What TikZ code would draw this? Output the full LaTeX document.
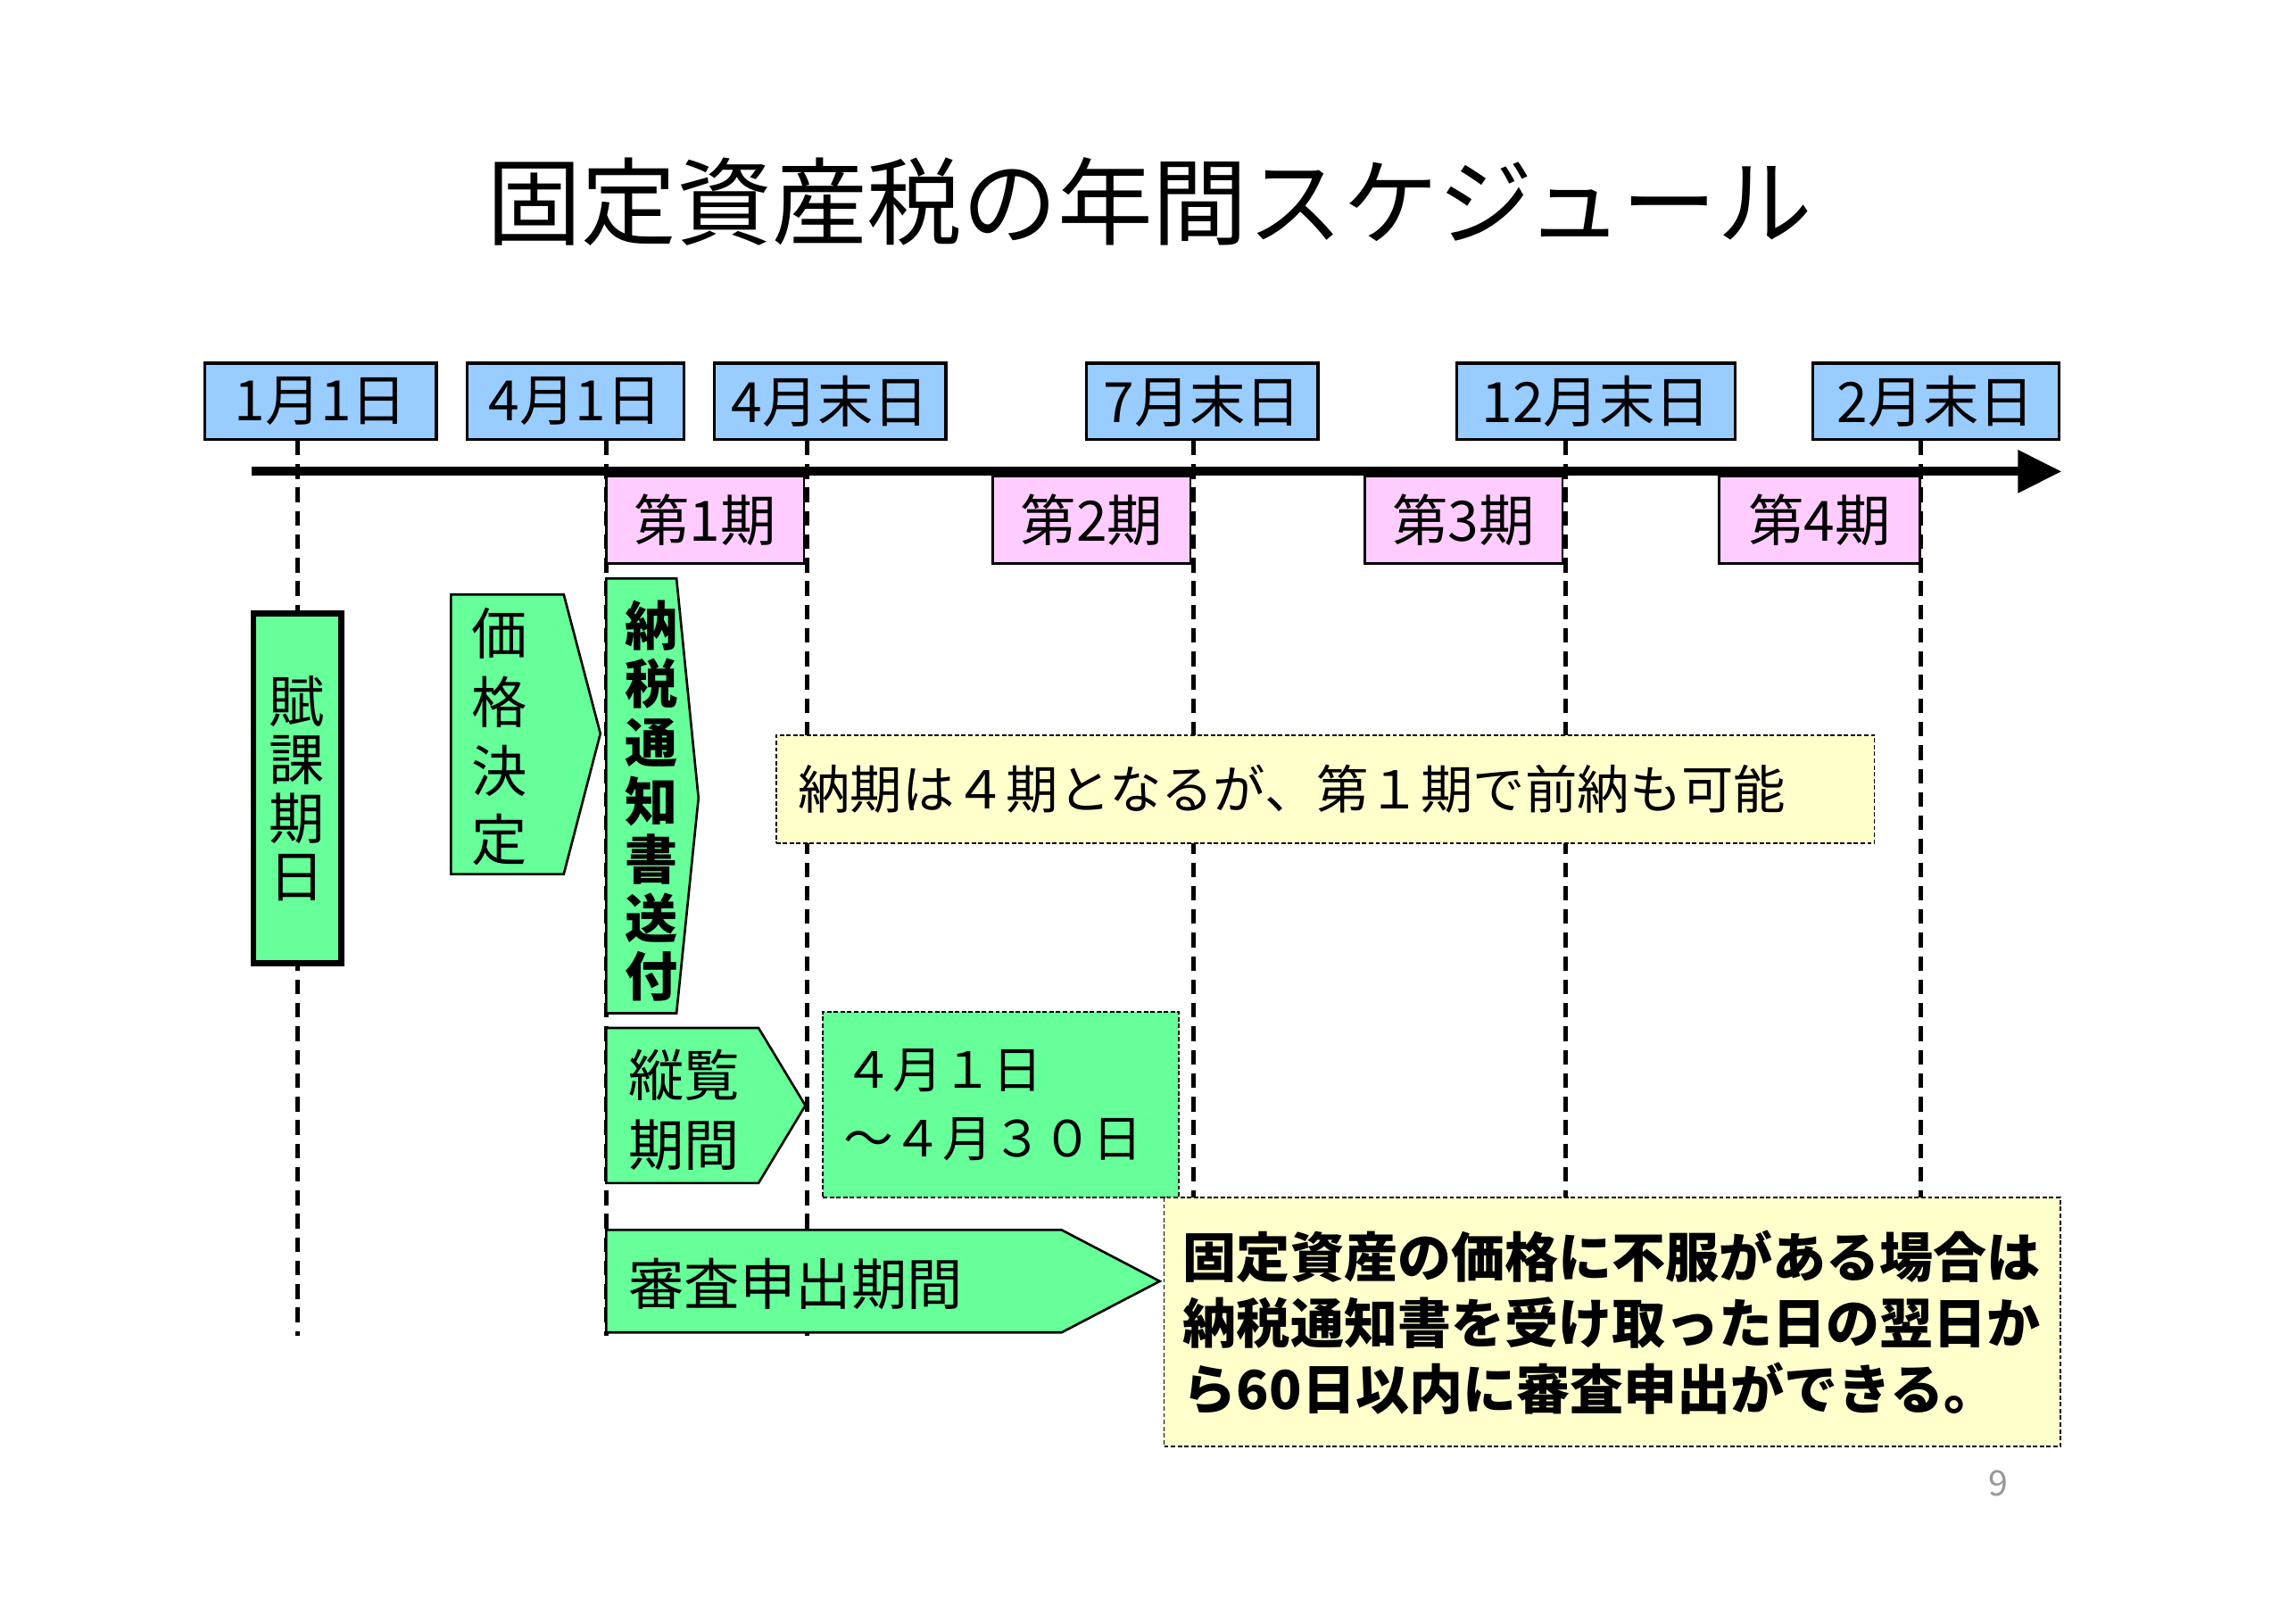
\documentclass[tikz,border=0pt]{standalone}
\usepackage{fontspec}
\setmainfont{Noto Sans CJK JP}
\usetikzlibrary{arrows.meta}
\definecolor{bluefill}{HTML}{99CCFF}
\definecolor{pinkfill}{HTML}{FFCCFF}
\definecolor{greenfill}{HTML}{66FF99}
\definecolor{yellowfill}{HTML}{FFFFCC}
\definecolor{pagegray}{HTML}{999999}
\begin{document}
\begin{tikzpicture}[x=0.5pt,y=-0.5pt,
  datebox/.style={draw=black, line width=1pt, fill=bluefill, inner sep=0pt,
    minimum height=26pt, font=\fontsize{19}{21}\selectfont},
  termbox/.style={draw=black, line width=0.8pt, fill=pinkfill, inner sep=0pt,
    minimum height=30pt, minimum width=67.5pt, font=\fontsize{19}{21}\selectfont},
  dashline/.style={draw=black, line width=1.5pt, dash pattern=on 5pt off 3pt},
  greenshape/.style={draw=black, line width=0.8pt, fill=greenfill},
  notebox/.style={draw=black, line width=0.5pt, dash pattern=on 1.5pt off 0.8pt},
  vtext/.style={align=center, inner sep=0pt, font=\fontsize{19}{23.5}\selectfont},
  txt/.style={inner sep=0pt, font=\fontsize{19}{23.5}\selectfont}
]
\useasboundingbox (0,0) rectangle (1568,1109);
\fill[white] (0,0) rectangle (1568,1109);

% title
\node[inner sep=0pt, font=\fontsize{32.5}{36}\selectfont] (title) at (785,138) {固定資産税の年間スケジュール};

% date boxes
\node[datebox, minimum width=79pt] (d1) at (219,274) {1月1日};
\node[datebox, minimum width=74pt] (d2) at (393,274) {4月1日};
\node[datebox, minimum width=79pt] (d3) at (567,274) {4月末日};
\node[datebox, minimum width=79pt] (d4) at (821,274) {7月末日};
\node[datebox, minimum width=95pt] (d5) at (1090,274) {12月末日};
\node[datebox, minimum width=84pt] (d6) at (1322,274) {2月末日};

% dashed guide lines
\coordinate (e1) at (203,912);
\coordinate (e2) at (414,912);
\coordinate (e3) at (551,912);
\coordinate (e4) at (815,818);
\coordinate (e5) at (1069,818);
\coordinate (e6) at (1312,818);
\draw[dashline] (e1 |- d1.south) -- (e1);
\draw[dashline] (e2 |- d2.south) -- (e2);
\draw[dashline] (e3 |- d3.south) -- (e3);
\draw[dashline] (e4 |- d4.south) -- (e4);
\draw[dashline] (e5 |- d5.south) -- (e5);
\draw[dashline] (e6 |- d6.south) -- (e6);

% time axis
\coordinate (axL) at (172,322);
\coordinate (axR) at (1408,322);
\draw[line width=3pt, -{Triangle[length=15pt,width=14pt]}] (axL) -- (axR);

% terms
\node[termbox] (t1) at (481.5,355) {第1期};
\node[termbox] (t2) at (745.5,355) {第2期};
\node[termbox] (t3) at (999.5,355) {第3期};
\node[termbox, minimum width=68.5pt] (t4) at (1242.5,355) {第4期};

% 賦課期日
\node[draw=black, line width=2pt, fill=greenfill, minimum width=30pt, minimum height=119.5pt,
  vtext, font=\fontsize{19}{20}\selectfont] (fuka) at (203,538.5) {賦\\課\\期\\日};

% 価格決定
\draw[greenshape] (308,406) -- (385,406) -- (410,501) -- (385,597) -- (308,597) -- cycle;
\node[vtext] (kakaku) at (341,503) {価\\格\\決\\定};

% 納税通知書送付
\draw[greenshape] (414,395) -- (462,395) -- (477,545) -- (462,692) -- (414,692) -- cycle;
\node[vtext, font=\fontsize{18}{20}\selectfont\bfseries] (nouzei) at (445,547) {納\\税\\通\\知\\書\\送\\付};

% 縦覧期間
\draw[greenshape] (414,702) -- (518,702) -- (550,755) -- (518,808) -- (414,808) -- cycle;
\node[txt, anchor=west, align=left] (juran) at (429,758) {縦覧\\期間};

% 4月1日～4月30日
\node[notebox, fill=greenfill, minimum width=121.5pt, minimum height=63.5pt, inner xsep=7pt,
  text width=107.5pt, align=left, font=\fontsize{17}{23.5}\selectfont] (period) at (683.5,754.5)
  {４月１日\\～４月３０日};

% 審査申出期間
\draw[greenshape] (414,840) -- (725,840) -- (792,875) -- (725,910) -- (414,910) -- cycle;
\node[txt, anchor=west] (shinsa) at (429,877) {審査申出期間};

% note 1
\node[notebox, fill=yellowfill, minimum width=375pt, minimum height=37pt, inner xsep=7.5pt,
  text width=360pt, align=left, font=\fontsize{17.8}{20}\selectfont] (note1) at (905,539)
  {納期は４期となるが、第１期で前納も可能};

% note 2
\node[notebox, fill=yellowfill, minimum width=306pt, minimum height=85pt, inner xsep=6.5pt,
  text width=293pt, align=left, font=\fontsize{18.3}{22.5}\selectfont\bfseries] (note2) at (1101,903)
  {固定資産の価格に不服がある場合は\\納税通知書を受け取った日の翌日か\\ら60日以内に審査申出ができる。};

% page number
\node[inner sep=0pt, text=pagegray, font=\fontsize{12}{14}\selectfont] (page) at (1365,1013) {9};
\end{tikzpicture}
\end{document}
